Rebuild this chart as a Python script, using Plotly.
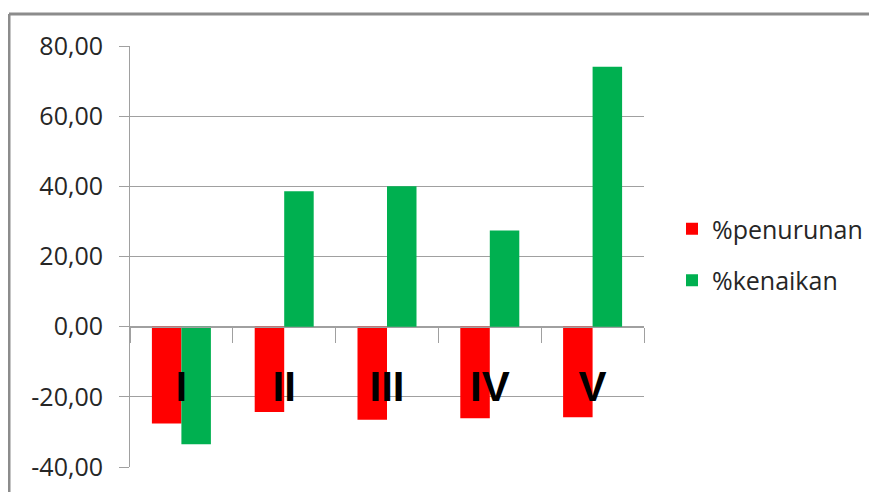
import plotly.graph_objects as go

categories = ["I", "II", "III", "IV", "V"]
penurunan = [-27.6, -24.3, -26.5, -26.1, -25.8]
kenaikan = [-33.5, 38.6, 40.0, 27.4, 74.1]
y_ticks = [-40, -20, 0, 20, 40, 60, 80]
y_tick_labels = [f"{v:.2f}".replace(".", ",") for v in y_ticks]

OFF = 8  # page body margin
W, H = 877 - OFF, 492 - OFF
ML, MT = 130 - OFF, 46 - OFF
PW, PH = 514, 421
MR, MB = W - ML - PW, H - MT - PH

def px_x(px):
    return (px - OFF - ML) / PW

def px_y(py):
    return (MT + PH - (py - OFF)) / PH

grid = "#a0a0a0"
txt = "#262626"
font_family = "Open Sans"

fig = go.Figure()
fig.add_trace(go.Bar(x=categories, y=penurunan, name="%penurunan",
                     marker=dict(color="#FF0000", line=dict(width=0)),
                     legendgroup="a"))
fig.add_trace(go.Bar(x=categories, y=kenaikan, name="%kenaikan",
                     marker=dict(color="#00B050", line=dict(width=0)),
                     legendgroup="b"))

fig.update_layout(
    width=W, height=H,
    margin=dict(l=ML, r=MR, t=MT, b=MB, pad=0, autoexpand=False),
    paper_bgcolor="white", plot_bgcolor="white",
    barmode="group", bargap=0.426, bargroupgap=0,
    font=dict(family=font_family, size=25, color=txt),
    showlegend=True,
    legend=dict(x=px_x(672), xanchor="left", y=px_y(254.5), yanchor="middle",
                font=dict(family=font_family, size=25, color=txt),
                tracegroupgap=16, traceorder="grouped",
                bgcolor="rgba(0,0,0,0)"),
    xaxis=dict(
        type="category",
        anchor="free", position=(0 - y_ticks[0]) / (y_ticks[-1] - y_ticks[0]),
        showline=True, linecolor=grid, linewidth=1,
        ticks="outside", tickson="boundaries", ticklen=15, tickcolor=grid, tickwidth=1,
        showgrid=False,
        tickfont=dict(family="Liberation Sans", size=42, color="black", weight="bold"),
        ticklabelstandoff=23,
    ),
    yaxis=dict(
        range=[y_ticks[0], y_ticks[-1]],
        tickvals=y_ticks, ticktext=y_tick_labels,
        showline=True, linecolor=grid, linewidth=1,
        ticks="outside", ticklen=10, tickcolor=grid, tickwidth=1,
        showgrid=True, gridcolor=grid, gridwidth=1,
        zeroline=False,
        tickfont=dict(family=font_family, size=25, color=txt),
        ticklabelstandoff=11,
    ),
    shapes=[
        dict(type="line", xref="paper", yref="paper",
             x0=px_x(9), x1=px_x(877 + 5), y0=px_y(14), y1=px_y(14),
             line=dict(color="#8c8c8c", width=3)),
        dict(type="line", xref="paper", yref="paper",
             x0=px_x(9), x1=px_x(9), y0=px_y(14), y1=px_y(492 + 5),
             line=dict(color="#8c8c8c", width=3)),
    ],
)

fig.write_html("out.html")
